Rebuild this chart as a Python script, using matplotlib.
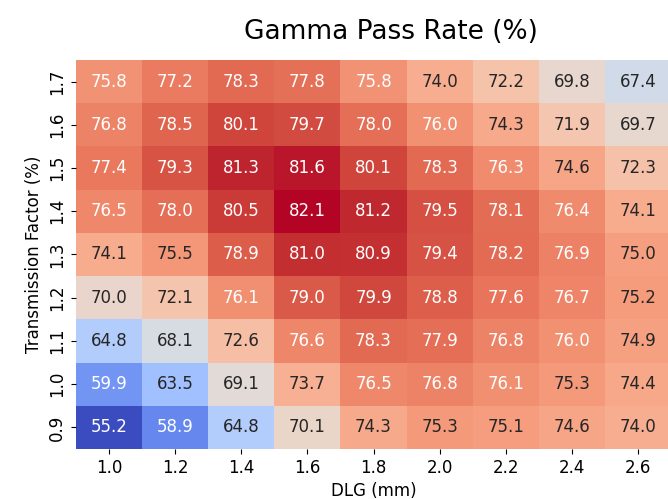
import matplotlib
matplotlib.use("Agg")
import matplotlib.pyplot as plt
import seaborn as sns
import pandas as pd

# DLG values (columns) and transmission factors (rows, top to bottom)
dlg = ["1.0", "1.2", "1.4", "1.6", "1.8", "2.0", "2.2", "2.4", "2.6"]
tf = ["1.7", "1.6", "1.5", "1.4", "1.3", "1.2", "1.1", "1.0", "0.9"]

row_17 = [75.8, 77.2, 78.3, 77.8, 75.8, 74.0, 72.2, 69.8, 67.4]
row_16 = [76.8, 78.5, 80.1, 79.7, 78.0, 76.0, 74.3, 71.9, 69.7]
row_15 = [77.4, 79.3, 81.3, 81.6, 80.1, 78.3, 76.3, 74.6, 72.3]
row_14 = [76.5, 78.0, 80.5, 82.1, 81.2, 79.5, 78.1, 76.4, 74.1]
row_13 = [74.1, 75.5, 78.9, 81.0, 80.9, 79.4, 78.2, 76.9, 75.0]
row_12 = [70.0, 72.1, 76.1, 79.0, 79.9, 78.8, 77.6, 76.7, 75.2]
row_11 = [64.8, 68.1, 72.6, 76.6, 78.3, 77.9, 76.8, 76.0, 74.9]
row_10 = [59.9, 63.5, 69.1, 73.7, 76.5, 76.8, 76.1, 75.3, 74.4]
row_09 = [55.2, 58.9, 64.8, 70.1, 74.3, 75.3, 75.1, 74.6, 74.0]

rows = [row_17, row_16, row_15, row_14, row_13, row_12, row_11, row_10, row_09]
df = pd.DataFrame(rows, index=tf, columns=dlg)

fig = plt.figure(figsize=(6.68, 4.99), dpi=100)
ax = fig.add_axes([0.1138, 0.100, 0.8907, 0.780])

sns.heatmap(df, ax=ax, cmap="coolwarm", annot=True, fmt=".1f",
            annot_kws={"fontsize": 12}, cbar=False)

ax.set_xlabel("DLG (mm)", fontsize=12)
ax.set_ylabel("Transmission Factor (%)", fontsize=12)
ax.tick_params(axis="both", labelsize=12)
plt.setp(ax.get_yticklabels(), rotation=90, va="center")
plt.setp(ax.get_xticklabels(), rotation=0)

fig.text(0.585, 0.936, "Gamma Pass Rate (%)", fontsize=19,
         ha="center", va="center")

fig.savefig("out.png", dpi=100)
